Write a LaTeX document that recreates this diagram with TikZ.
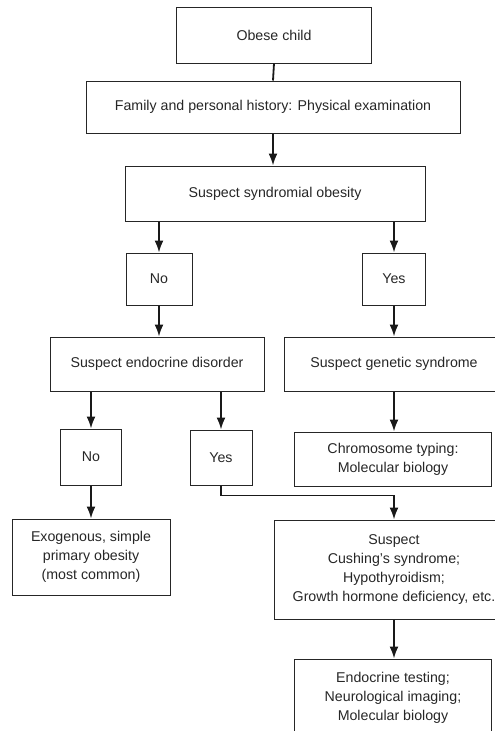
\documentclass[tikz,border=0pt]{standalone}
\usepackage{fontspec}
\setmainfont{Liberation Sans}
\usetikzlibrary{arrows.meta}

\begin{document}
\begin{tikzpicture}[x=1pt,y=-1pt,>={Latex[length=12pt,width=9pt]},
  box/.style={draw=black!85,line width=1pt,align=center,inner sep=0pt,
    text=black!85,font=\fontsize{14.2}{19}\selectfont},
  link/.style={draw=black!90,line width=1.8pt}]
  \useasboundingbox (0,0) rectangle (495,731);
  \clip (0,0) rectangle (495,731);

  % top of the chart
  \node[box,minimum width=195pt,minimum height=56pt] (obese) at (274,35) {Obese child};
  \node[box,minimum width=374pt,minimum height=52pt] (family) at (273,107)
    {Family and personal history: Physical examination};
  \node[box,minimum width=300pt,minimum height=55pt] (synd) at (275,193.5)
    {Suspect syndromial obesity};
  \node[box,minimum width=66pt,minimum height=52pt] (noA) at (159,279) {No};
  \node[box,minimum width=63pt,minimum height=52pt] (yesA) at (394,279) {Yes};

  % left branch
  \node[box,minimum width=214pt,minimum height=54pt] (endo) at (157,364)
    {Suspect endocrine disorder};
  \node[box,minimum width=61pt,minimum height=56pt] (noB) at (91,457) {No};
  \node[box,minimum width=62pt,minimum height=55pt] (yesB) at (221,457.5) {Yes};
  \node[box,minimum width=158pt,minimum height=76pt] (exog) at (91,557)
    {Exogenous, simple\\primary obesity\\(most common)};

  % right branch
  \node[box,minimum width=220pt,minimum height=54pt] (genet) at (394,364)
    {Suspect genetic syndrome};
  \node[box,minimum width=197pt,minimum height=54pt] (chrom) at (393,459)
    {Chromosome typing:\\Molecular biology};
  \node[box,minimum width=240pt,minimum height=99pt] (cush) at (394,569.5)
    {Suspect\\Cushing's syndrome;\\Hypothyroidism;\\Growth hormone deficiency, etc.};
  \node[box,minimum width=197pt,minimum height=78pt] (endot) at (393,698)
    {Endocrine testing;\\Neurological imaging;\\Molecular biology};

  \draw[link] (obese.south) -- (family.north);
  \draw[link,->] (family.south) -- (family.south |- synd.north);
  \draw[link,->] (synd.south -| noA.north) -- (noA.north);
  \draw[link,->] (synd.south -| yesA.north) -- (yesA.north);
  \draw[link,->] (noA.south) -- (noA.south |- endo.north);
  \draw[link,->] (yesA.south) -- (genet.north);
  \draw[link,->] (endo.south -| noB.north) -- (noB.north);
  \draw[link,->] (endo.south -| yesB.north) -- (yesB.north);
  \draw[link,->] (genet.south) -- (genet.south |- chrom.north);
  \draw[link,->] (noB.south) -- (exog.north);
  \draw[link,->] (yesB.south) -- ++(0,10) -| (cush.north);
  \draw[link,->] (cush.south) -- (cush.south |- endot.north);
\end{tikzpicture}
\end{document}
